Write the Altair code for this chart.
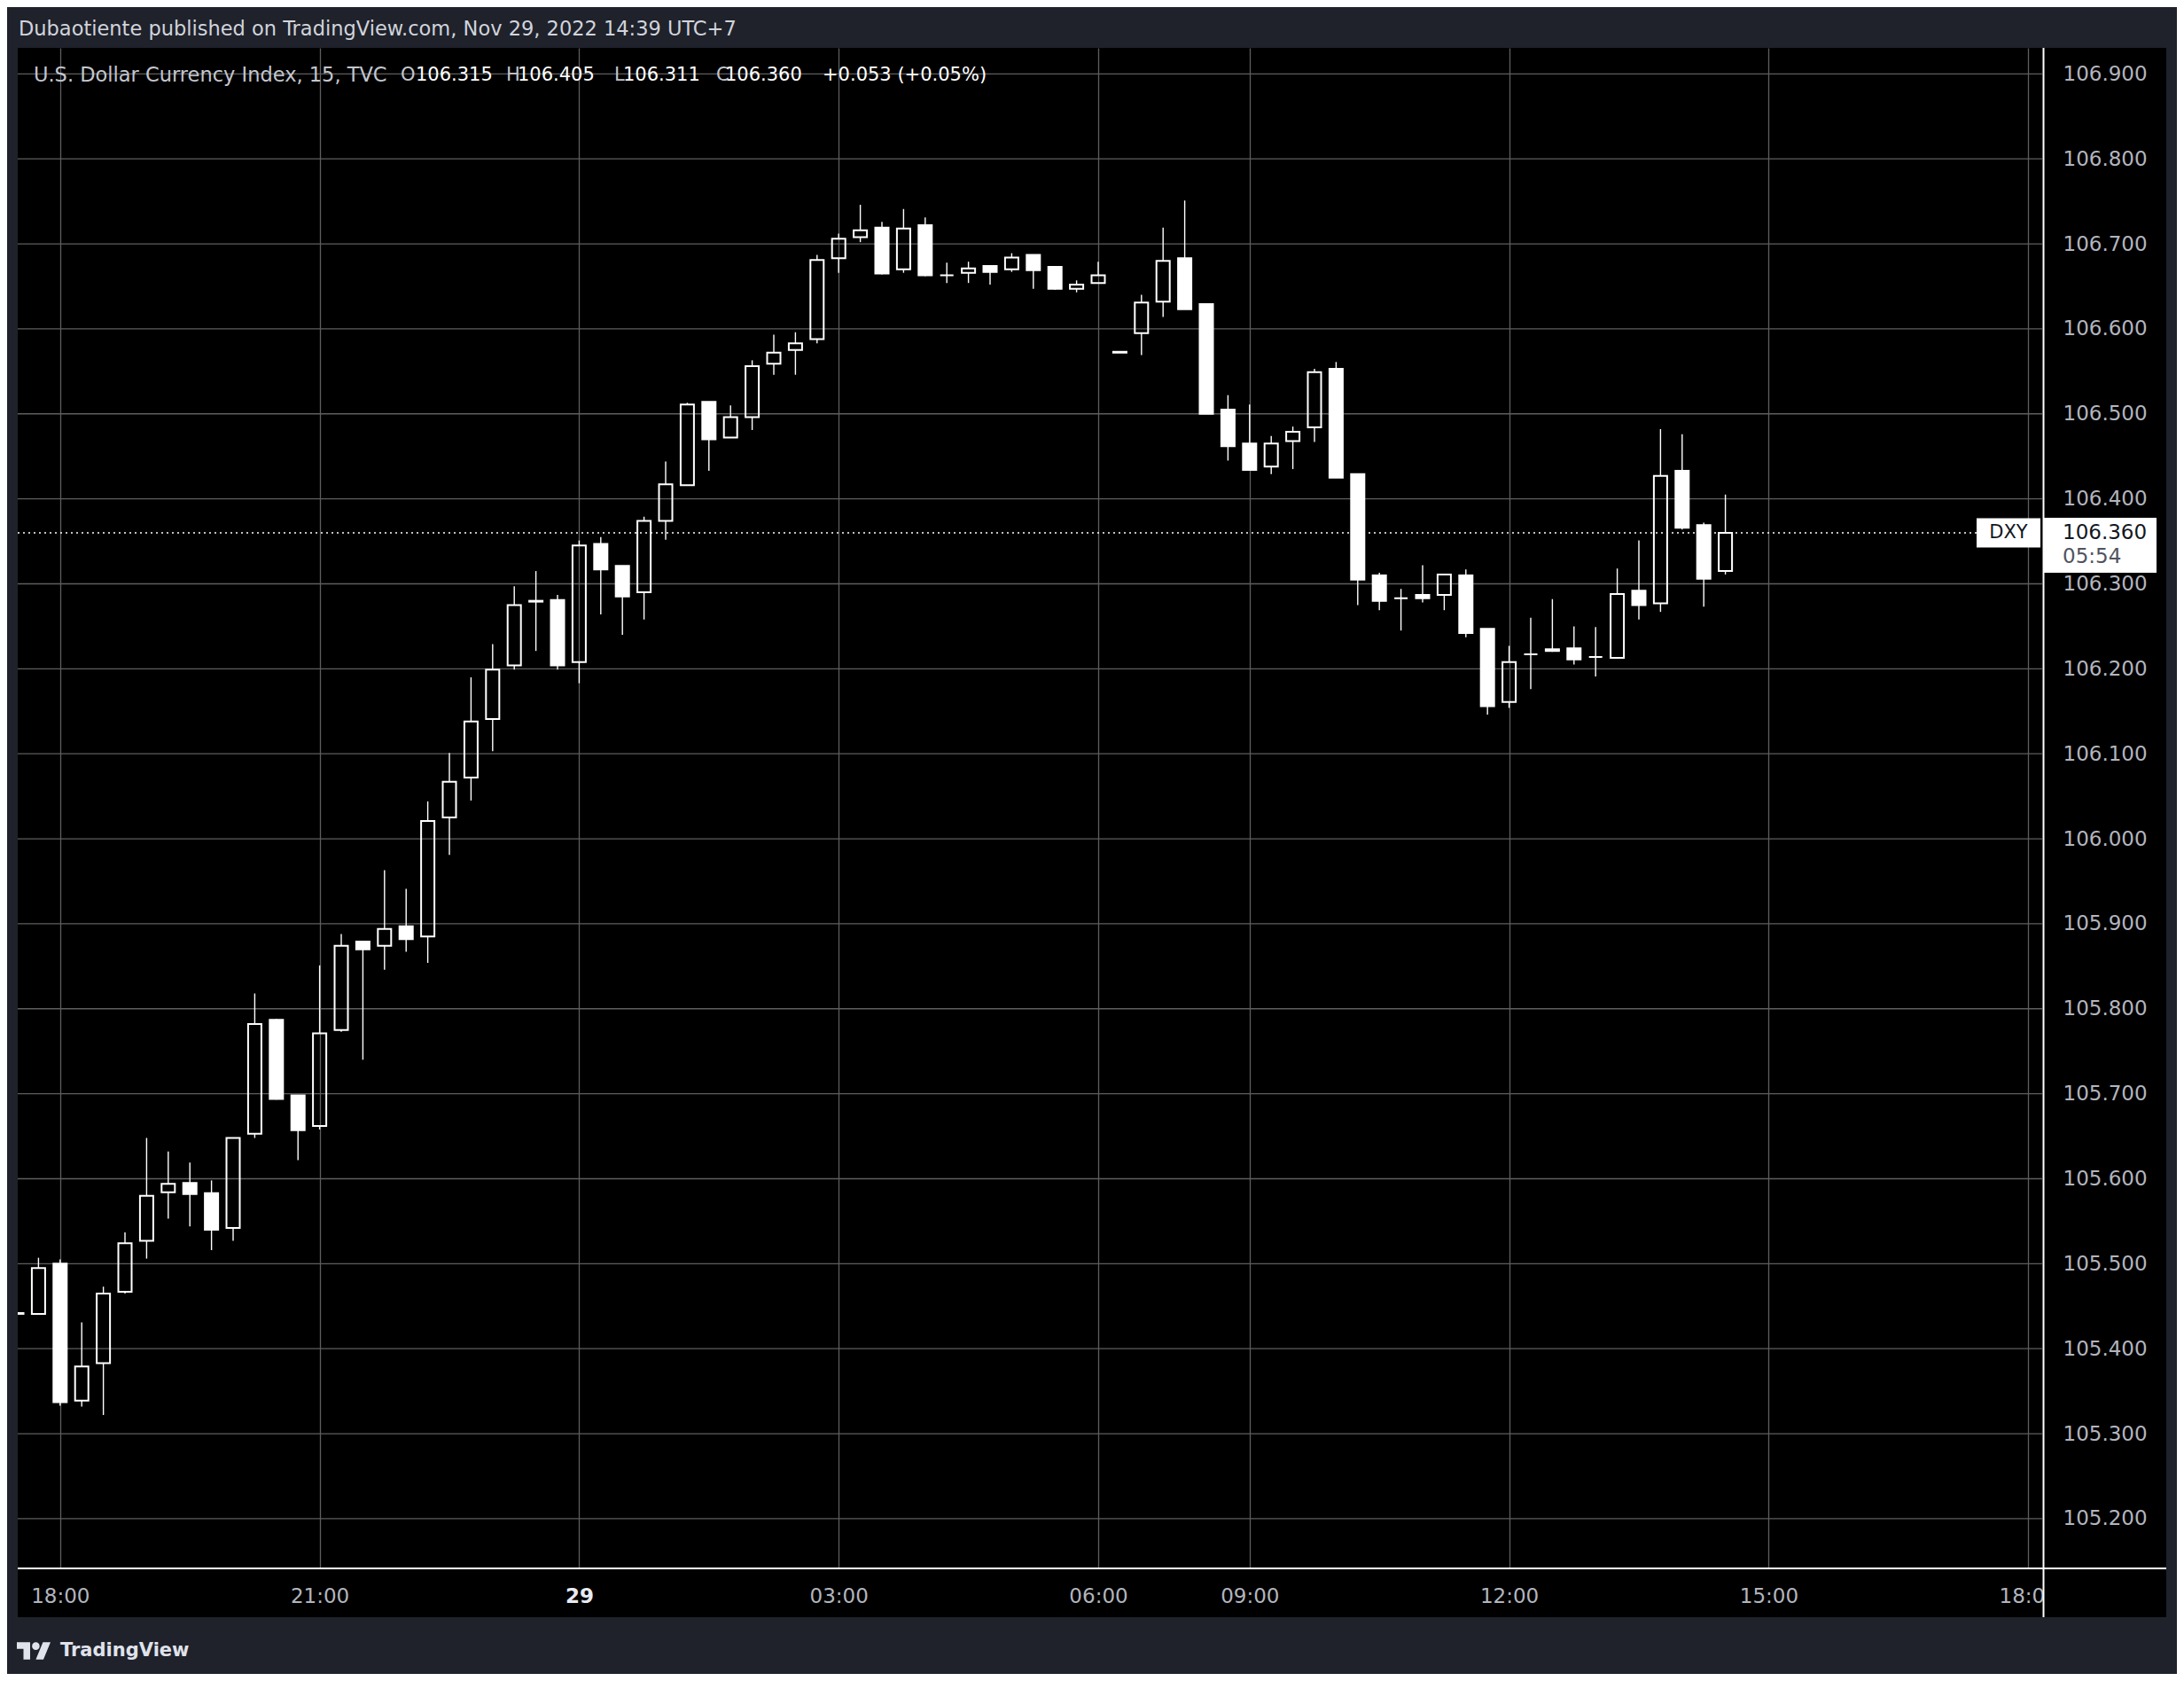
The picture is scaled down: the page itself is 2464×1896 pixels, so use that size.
import altair as alt
import pandas as pd

# ---------------- data (15-minute DXY bars, index 0 = 18:00 Nov 28) ----------------
bar_index = list(range(-2, 78))
opens = [105.442, 105.441, 105.500, 105.339, 105.383, 105.467, 105.527, 105.584, 105.595, 105.583,
         105.542, 105.653, 105.787, 105.698, 105.662, 105.775, 105.879, 105.874, 105.897, 105.885,
         106.025, 106.072, 106.141, 106.204, 106.280, 106.281, 106.208, 106.347, 106.321, 106.290,
         106.374, 106.416, 106.514, 106.472, 106.496, 106.559, 106.575, 106.588, 106.683, 106.708,
         106.719, 106.670, 106.722, 106.663, 106.666, 106.674, 106.670, 106.687, 106.673, 106.647,
         106.654, 106.573, 106.595, 106.632, 106.683, 106.629, 106.505, 106.465, 106.438, 106.468,
         106.484, 106.553, 106.429, 106.310, 106.283, 106.287, 106.287, 106.310, 106.247, 106.161,
         106.217, 106.221, 106.224, 106.214, 106.213, 106.292, 106.277, 106.433, 106.369, 106.315]
highs = [105.444, 105.507, 105.505, 105.431, 105.473, 105.537, 105.648, 105.632, 105.619, 105.598,
         105.648, 105.818, 105.788, 105.698, 105.851, 105.888, 105.879, 105.963, 105.941, 106.044,
         106.101, 106.190, 106.229, 106.297, 106.315, 106.287, 106.351, 106.355, 106.321, 106.379,
         106.444, 106.513, 106.514, 106.510, 106.563, 106.593, 106.596, 106.687, 106.712, 106.746,
         106.726, 106.741, 106.731, 106.678, 106.679, 106.674, 106.689, 106.687, 106.673, 106.657,
         106.679, 106.573, 106.640, 106.719, 106.751, 106.629, 106.522, 106.511, 106.474, 106.485,
         106.553, 106.561, 106.429, 106.313, 106.294, 106.322, 106.312, 106.317, 106.247, 106.227,
         106.260, 106.282, 106.250, 106.249, 106.318, 106.351, 106.482, 106.476, 106.372, 106.405]
lows = [105.440, 105.441, 105.333, 105.332, 105.322, 105.465, 105.506, 105.553, 105.544, 105.516,
        105.527, 105.648, 105.693, 105.622, 105.658, 105.773, 105.740, 105.846, 105.867, 105.854,
        105.981, 106.045, 106.103, 106.199, 106.221, 106.199, 106.183, 106.264, 106.240, 106.258,
        106.352, 106.416, 106.433, 106.472, 106.481, 106.546, 106.546, 106.583, 106.666, 106.702,
        106.664, 106.666, 106.662, 106.654, 106.654, 106.652, 106.667, 106.647, 106.646, 106.643,
        106.653, 106.572, 106.569, 106.614, 106.623, 106.500, 106.445, 106.434, 106.429, 106.435,
        106.467, 106.425, 106.275, 106.269, 106.245, 106.278, 106.269, 106.237, 106.146, 106.154,
        106.176, 106.220, 106.205, 106.191, 106.213, 106.258, 106.267, 106.364, 106.273, 106.311]
closes = [105.441, 105.495, 105.337, 105.379, 105.465, 105.524, 105.580, 105.594, 105.582, 105.540,
          105.648, 105.782, 105.694, 105.657, 105.771, 105.874, 105.870, 105.894, 105.882, 106.021,
          106.067, 106.138, 106.199, 106.275, 106.279, 106.204, 106.345, 106.317, 106.285, 106.374,
          106.417, 106.511, 106.470, 106.496, 106.556, 106.572, 106.583, 106.681, 106.706, 106.716,
          106.665, 106.718, 106.663, 106.663, 106.671, 106.667, 106.684, 106.669, 106.647, 106.652,
          106.663, 106.572, 106.631, 106.680, 106.623, 106.500, 106.462, 106.434, 106.465, 106.479,
          106.549, 106.425, 106.305, 106.280, 106.283, 106.283, 106.311, 106.242, 106.156, 106.208,
          106.217, 106.223, 106.211, 106.214, 106.288, 106.275, 106.427, 106.366, 106.306, 106.360]

price_ticks = [105.2, 105.3, 105.4, 105.5, 105.6, 105.7, 105.8, 105.9,
               106.0, 106.1, 106.2, 106.3, 106.4, 106.5, 106.6, 106.7, 106.8, 106.9]
time_tick_pos = [0, 12, 24, 36, 48, 55, 67, 79, 91]
time_tick_labels = ["18:00", "21:00", "29", "03:00", "06:00", "09:00", "12:00", "15:00", "18:00"]

last_price = 106.360
countdown = "05:54"
symbol = "DXY"
header_text = "Dubaotiente published on TradingView.com, Nov 29, 2022 14:39 UTC+7"
legend_title = "U.S. Dollar Currency Index, 15, TVC"
legend_change = "+0.053 (+0.05%)"

# ---------------- frames ----------------
df = pd.DataFrame({"i": bar_index, "open": opens, "high": highs, "low": lows, "close": closes})
df["top"] = df[["open", "close"]].max(axis=1)
df["bot"] = df[["open", "close"]].min(axis=1)
df["bull"] = df["close"] > df["open"]
grid_df = pd.DataFrame({"level": price_ticks})
last_df = pd.DataFrame({"p": [last_price]})
one = pd.DataFrame({"k": [0]})

W, H = 2284, 1715
FONT = "DejaVu Sans"
GRID = "#5e5e5e"
BAND = "#1f222b"
AXIS_TXT = "#b2b5be"

xs = alt.Scale(domain=[-1.7546, 91.443], nice=False, zero=False)
ys = alt.Scale(domain=[105.1415, 106.9306], nice=False, zero=False)

label_expr = ""
for pos, lab in zip(time_tick_pos, time_tick_labels):
    label_expr += f"datum.value == {pos} ? '{lab}' : "
label_expr += "''"

x_axis = alt.Axis(
    values=time_tick_pos, labelExpr=label_expr, grid=True, gridColor=GRID, gridWidth=1.3,
    domain=False, ticks=False, labelPadding=31, labelBaseline="middle", labelFontSize=23,
    labelFont=FONT, labelFlush=False, labelOverlap=False, title=None, zindex=0,
    labelColor={"condition": {"test": "datum.value == 24", "value": "#e8eaf0"}, "value": AXIS_TXT},
    labelFontWeight={"condition": {"test": "datum.value == 24", "value": "bold"}, "value": "normal"},
)
y_axis = alt.Axis(
    orient="right", values=price_ticks, format=".3f", grid=False, domain=False, ticks=False,
    labelPadding=23, labelAlign="left", labelBaseline="middle", labelFontSize=23, labelFont=FONT,
    labelColor=AXIS_TXT, title=None, zindex=1, labelOverlap=False, labelFlush=False,
)

X = alt.X("i:Q", scale=xs, axis=x_axis)

hgrid = alt.Chart(grid_df).mark_rule(color=GRID, strokeWidth=1.3).encode(
    y=alt.Y("level:Q", scale=ys, axis=y_axis), x=alt.value(0), x2=alt.value(W))

dotted = alt.Chart(last_df).mark_rule(color="white", strokeWidth=1.6, strokeDash=[2, 4]).encode(
    y=alt.Y("p:Q", scale=ys, axis=y_axis), x=alt.value(0), x2=alt.value(2211))

upper = alt.Chart(df).mark_rule(color="white", strokeWidth=1.4, clip=True).encode(
    x=X, y=alt.Y("high:Q", scale=ys, axis=y_axis), y2="top:Q")
lower = alt.Chart(df).mark_rule(color="white", strokeWidth=1.4, clip=True).encode(
    x=X, y=alt.Y("bot:Q", scale=ys, axis=y_axis), y2="low:Q")
bodies = alt.Chart(df).mark_bar(size=15, stroke="white", strokeWidth=2, clip=True).encode(
    x=X, y=alt.Y("top:Q", scale=ys, axis=y_axis), y2="bot:Q",
    fill=alt.condition(alt.datum.bull, alt.value("transparent"), alt.value("white")))


def rect(x0, x1, y0, y1, color):
    return alt.Chart(one).mark_rect(color=color).encode(
        x=alt.value(x0), x2=alt.value(x1), y=alt.value(y0), y2=alt.value(y1))


def hrule(x0, x1, y, color, w):
    return alt.Chart(one).mark_rule(color=color, strokeWidth=w).encode(
        x=alt.value(x0), x2=alt.value(x1), y=alt.value(y))


def vrule(x, y0, y1, color, w):
    return alt.Chart(one).mark_rule(color=color, strokeWidth=w).encode(
        x=alt.value(x), y=alt.value(y0), y2=alt.value(y1))


def text(s, x, y, size, color, align="left", weight="normal"):
    return alt.Chart(one).mark_text(text=s, align=align, baseline="middle", font=FONT,
                                    fontSize=size, color=color, fontWeight=weight).encode(
        x=alt.value(x), y=alt.value(y))


price_axis_bg = rect(2285, 2424, 0, 1770, "black")
top_band = rect(-12, 2436, -46, 0, BAND)
bottom_band = rect(-12, 2436, 1770, 1834, BAND)
left_band = rect(-12, 0, -46, 1834, BAND)
right_band = rect(2424, 2436, -46, 1834, BAND)
time_line = hrule(0, 2424, 1715, "white", 2)
price_line = vrule(2285.5, 0, 1770, "white", 2)

box_path = "M-1,-0.484L1,-0.484L1,0.484L-1,0.484Z"
dxy_path = "M-1,-0.458L1,-0.458L1,0.458L-1,0.458Z"
Yp = alt.Y("p:Q", scale=ys, axis=y_axis)
price_box = alt.Chart(last_df).mark_point(shape=box_path, size=128 ** 2, filled=True, color="white",
                                          opacity=1, strokeWidth=0, yOffset=14).encode(
    x=alt.value(2349), y=Yp)
dxy_box = alt.Chart(last_df).mark_point(shape=dxy_path, size=72 ** 2, filled=True, color="white",
                                        opacity=1, strokeWidth=0).encode(x=alt.value(2246), y=Yp)
dxy_txt = alt.Chart(last_df).mark_text(text=symbol, align="center", baseline="middle", font=FONT,
                                       fontSize=21, color="#131722").encode(x=alt.value(2246), y=Yp)
price_txt = alt.Chart(last_df).mark_text(align="left", baseline="middle", font=FONT, fontSize=23,
                                         color="#131722").encode(
    x=alt.value(2307), y=Yp, text=alt.Text("p:Q", format=".3f"))
count_txt = alt.Chart(last_df).mark_text(text=countdown, align="left", baseline="middle", font=FONT,
                                         fontSize=23, color="#50535e", yOffset=27).encode(
    x=alt.value(2307), y=Yp)

header = text(header_text, 1, -21, 22.5, "#d1d4dc")

LEG_Y = 31
LEG_GRAY = "#c3c6ce"
legend_parts = [
    (legend_title, 18, LEG_GRAY, 22.5),
    ("O", 432, LEG_GRAY, 21), (f"{opens[-1]:.3f}", 449, "white", 21),
    ("H", 551, LEG_GRAY, 21), (f"{highs[-1]:.3f}", 564, "white", 21),
    ("L", 673, LEG_GRAY, 21), (f"{lows[-1]:.3f}", 683, "white", 21),
    ("C", 788, LEG_GRAY, 21), (f"{closes[-1]:.3f}", 798, "white", 21),
    (legend_change, 908, "white", 21),
]
legend_layers = [text(s, x, LEG_Y, fs, c) for s, x, c, fs in legend_parts]

logo_path = ("M-0.211,0.507L-0.606,0.507L-0.606,-0.113L-1,-0.113L-1,-0.507L-0.211,-0.507Z "
             "M0.577,0.507L0.127,0.507L0.549,-0.507L1,-0.507Z "
             "M-0.098,-0.282A0.225,0.225,0,1,0,0.352,-0.282A0.225,0.225,0,1,0,-0.098,-0.282Z")
logo = alt.Chart(one).mark_point(shape=logo_path, size=38 ** 2, filled=True, color="#e0e3eb",
                                 opacity=1, strokeWidth=0).encode(x=alt.value(18), y=alt.value(1808))
logo_txt = text("TradingView", 48, 1808, 21, "#e0e3eb", weight="bold")

chart = alt.layer(
    hgrid, dotted, upper, lower, bodies,
    price_axis_bg, top_band, bottom_band, left_band, right_band,
    time_line, price_line,
    dxy_box, dxy_txt, price_box, price_txt, count_txt,
    header, *legend_layers, logo, logo_txt,
).properties(
    width=W, height=H,
    autosize=alt.AutoSizeParams(type="none"),
    padding={"left": 12, "top": 46, "right": 152, "bottom": 119},
).configure(background="black").configure_view(strokeWidth=0)

chart.save("out.html", embed_options={"renderer": "svg", "actions": False})
